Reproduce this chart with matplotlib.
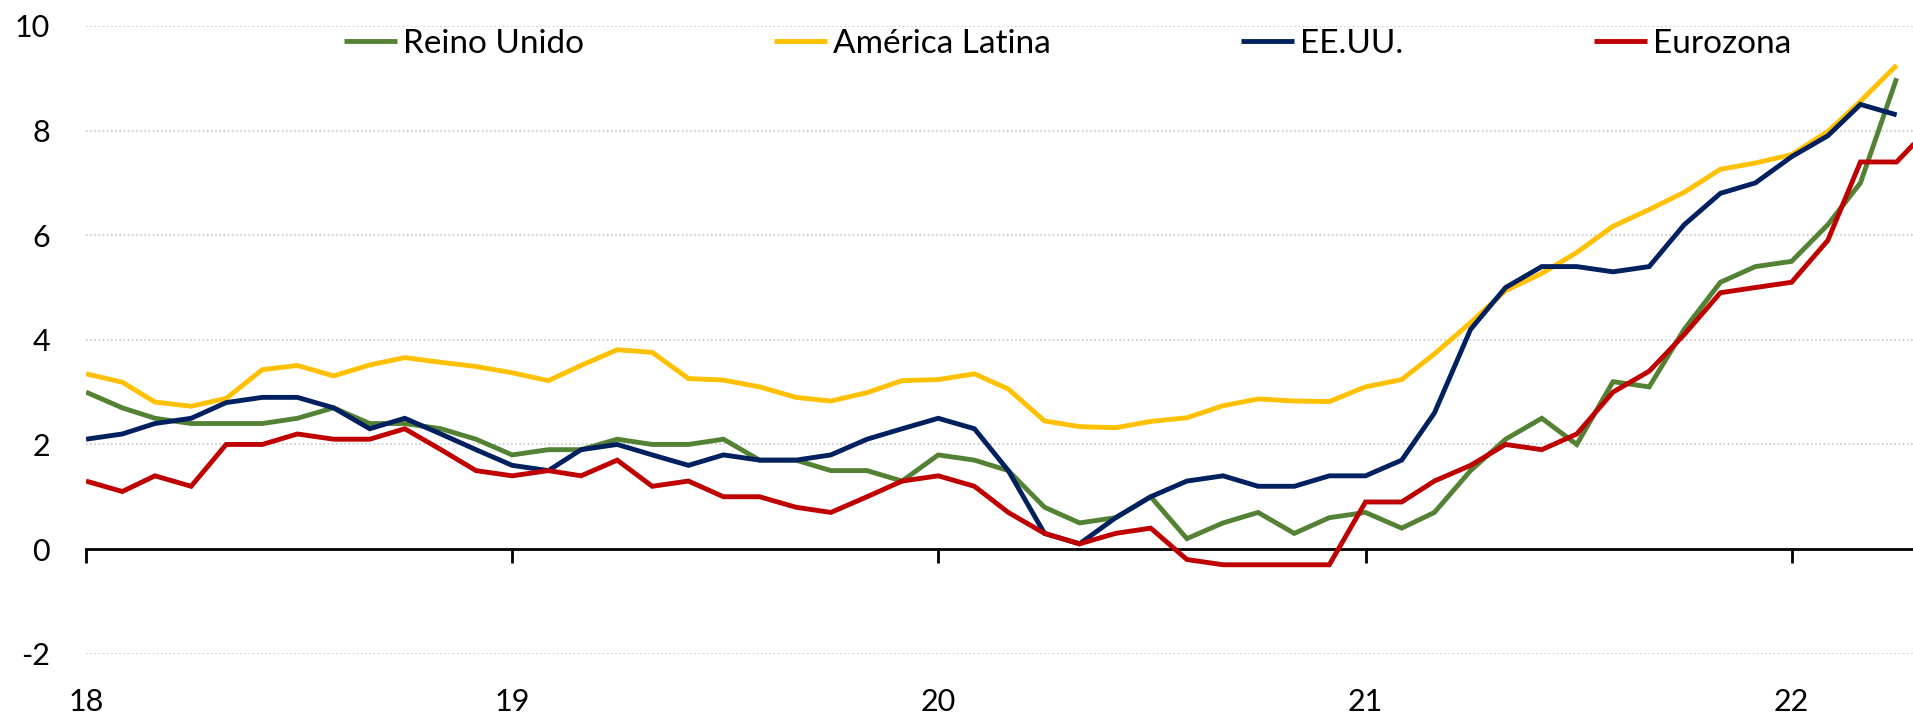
import matplotlib
matplotlib.use("Agg")
import matplotlib.pyplot as plt
import matplotlib.transforms as mtransforms
import numpy as np
import pandas as pd

# Inflación interanual (%), datos mensuales desde ene-2018
reino_unido = [3.0, 2.7, 2.5, 2.4, 2.4, 2.4, 2.5, 2.7, 2.4, 2.4, 2.3, 2.1,
               1.8, 1.9, 1.9, 2.1, 2.0, 2.0, 2.1, 1.7, 1.7, 1.5, 1.5, 1.3,
               1.8, 1.7, 1.5, 0.8, 0.5, 0.6, 1.0, 0.2, 0.5, 0.7, 0.3, 0.6,
               0.7, 0.4, 0.7, 1.5, 2.1, 2.5, 2.0, 3.2, 3.1, 4.2, 5.1, 5.4,
               5.5, 6.2, 7.0, 9.0]
america_latina = [3.35, 3.19, 2.81, 2.73, 2.88, 3.43, 3.51, 3.31, 3.52, 3.66, 3.57, 3.49,
                  3.37, 3.22, 3.51, 3.81, 3.76, 3.26, 3.23, 3.10, 2.90, 2.83, 2.99, 3.22,
                  3.24, 3.35, 3.06, 2.45, 2.34, 2.32, 2.44, 2.51, 2.74, 2.87, 2.83, 2.82,
                  3.10, 3.24, 3.73, 4.33, 4.94, 5.27, 5.67, 6.17, 6.49, 6.82, 7.26, 7.38,
                  7.54, 7.98, 8.56, 9.25]
eeuu = [2.1, 2.2, 2.4, 2.5, 2.8, 2.9, 2.9, 2.7, 2.3, 2.5, 2.2, 1.9,
        1.6, 1.5, 1.9, 2.0, 1.8, 1.6, 1.8, 1.7, 1.7, 1.8, 2.1, 2.3,
        2.5, 2.3, 1.5, 0.3, 0.1, 0.6, 1.0, 1.3, 1.4, 1.2, 1.2, 1.4,
        1.4, 1.7, 2.6, 4.2, 5.0, 5.4, 5.4, 5.3, 5.4, 6.2, 6.8, 7.0,
        7.5, 7.9, 8.5, 8.3]
eurozona = [1.3, 1.1, 1.4, 1.2, 2.0, 2.0, 2.2, 2.1, 2.1, 2.3, 1.9, 1.5,
            1.4, 1.5, 1.4, 1.7, 1.2, 1.3, 1.0, 1.0, 0.8, 0.7, 1.0, 1.3,
            1.4, 1.2, 0.7, 0.3, 0.1, 0.3, 0.4, -0.2, -0.3, -0.3, -0.3, -0.3,
            0.9, 0.9, 1.3, 1.6, 2.0, 1.9, 2.2, 3.0, 3.4, 4.1, 4.9, 5.0,
            5.1, 5.9, 7.4, 7.4, 8.1]

series = ["Reino Unido", "América Latina", "EE.UU.", "Eurozona"]
year_labels = ["18", "19", "20", "21", "22"]
y_ticks = [-2, 0, 2, 4, 6, 8, 10]

colors = ["#548235", "#FFC000", "#002060", "#C00000"]
fs = 22

plt.rcParams["font.family"] = ["Lato", "DejaVu Sans"]

fig = plt.figure(figsize=(19.13, 7.17), dpi=100)
ax = fig.add_axes([0.045, 0.0883, 0.955, 0.8755])

start = pd.Timestamp("2018-01-01")
handles = []
for name, vals, c in zip(series, [reino_unido, america_latina, eeuu, eurozona], colors):
    dates = pd.date_range(start, periods=len(vals), freq="MS")
    h, = ax.plot(dates, vals, color=c, lw=3.5, solid_joinstyle="miter",
                 solid_capstyle="butt", label=name)
    handles.append(h)

ax.set_xlim(start, pd.Timestamp("2022-04-15"))
ax.set_ylim(-2, 10)

# grid: dotted light lines except at zero
for v in y_ticks:
    if v != 0:
        ax.axhline(v, color="#c8c8c8", lw=1.2, ls=(0, (1, 1.5)), zorder=0)

for s in ["top", "right", "left"]:
    ax.spines[s].set_visible(False)
ax.spines["bottom"].set_position(("data", 0))
ax.spines["bottom"].set_color("black")
ax.spines["bottom"].set_linewidth(2.0)
ax.spines["bottom"].set_zorder(1)

year_ticks = pd.date_range(start, periods=len(year_labels), freq="YS")
ax.set_xticks(year_ticks)
ax.set_xticklabels([])
ax.tick_params(axis="x", direction="out", length=10, width=2.0, color="black")

trans = mtransforms.blended_transform_factory(ax.transData, ax.transAxes)
for d, lab in zip(year_ticks, year_labels):
    ax.text(d, -0.0765, lab, transform=trans, ha="center", va="center", fontsize=fs,
            color="black")

ax.set_yticks(y_ticks)
ax.set_yticklabels([str(v) for v in y_ticks], fontsize=fs)
ax.tick_params(axis="y", length=0, pad=26)

fig.legend(handles=handles, loc="center", bbox_to_anchor=(0.558, 0.9386), ncol=4,
           frameon=False, fontsize=24, handlelength=1.6, handletextpad=0.18,
           columnspacing=5.7)

fig.savefig("out.png", dpi=100)
